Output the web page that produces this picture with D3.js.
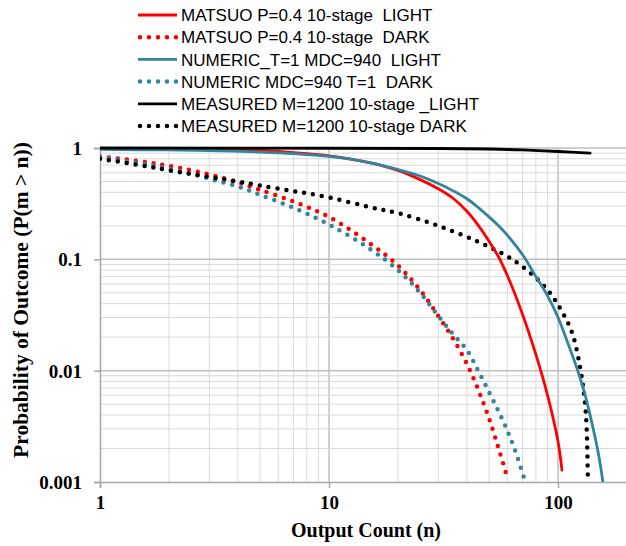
<!DOCTYPE html>
<html>
<head>
<meta charset="utf-8">
<script src="https://cdn.jsdelivr.net/npm/d3@7"></script>
<style>
  body { margin: 0; background: #fff; }
  svg { display: block; }
  .legend text { font-family: "Liberation Sans", Arial, sans-serif; font-size: 17px; white-space: pre; }
  .tick-label { font-family: "Liberation Serif", "Times New Roman", serif; font-weight: bold; font-size: 19px; }
  .title { font-family: "Liberation Serif", "Times New Roman", serif; font-weight: bold; font-size: 20px; }
</style>
</head>
<body>
<script>
// series (n, P(m > n))
const matsuoLightN = [1, 2, 3, 5, 7, 10, 15, 20, 25, 30, 35, 40, 45, 50, 55, 60, 70, 80, 90, 100, 104];
const matsuoLightP = [0.99, 0.985, 0.975, 0.95, 0.91, 0.85, 0.74, 0.63, 0.52, 0.43, 0.35, 0.27, 0.2, 0.145, 0.105, 0.072, 0.032, 0.014, 0.006, 0.0023, 0.00128];

const matsuoDarkN = [1, 1.5, 2, 3, 4, 5, 7, 10, 15, 20, 25, 30, 35, 40, 45, 50, 55, 60];
const matsuoDarkP = [0.84, 0.76, 0.69, 0.58, 0.49, 0.42, 0.33, 0.24, 0.14, 0.088, 0.053, 0.031, 0.019, 0.0115, 0.0066, 0.0037, 0.002, 0.0011];

const numericLightN = [1, 2, 3, 5, 7, 10, 15, 20, 25, 30, 35, 40, 45, 50, 55, 60, 70, 80, 90, 100, 110, 120, 130, 140, 150, 157];
const numericLightP = [0.97, 0.96, 0.95, 0.92, 0.89, 0.84, 0.74, 0.64, 0.56, 0.48, 0.41, 0.35, 0.29, 0.24, 0.2, 0.165, 0.11, 0.07, 0.047, 0.03, 0.018, 0.011, 0.0065, 0.0035, 0.0018, 0.001];

const numericDarkN = [1, 1.5, 2, 3, 4, 5, 7, 10, 15, 20, 25, 30, 35, 40, 45, 50, 55, 60, 65, 72];
const numericDarkP = [0.82, 0.73, 0.65, 0.53, 0.45, 0.38, 0.29, 0.205, 0.125, 0.08, 0.05, 0.031, 0.021, 0.0153, 0.0098, 0.0064, 0.0043, 0.0029, 0.0019, 0.001];

const measuredLightN = [1, 10, 30, 50, 70, 100, 138];
const measuredLightP = [1, 0.995, 0.99, 0.98, 0.96, 0.93, 0.9];

const measuredDarkN = [1, 1.5, 2, 3, 4, 5, 7, 10, 15, 20, 30, 45, 64, 86, 100, 115, 125, 130, 133, 135];
const measuredDarkP = [0.8, 0.7, 0.63, 0.55, 0.5, 0.46, 0.41, 0.36, 0.295, 0.26, 0.2, 0.143, 0.098, 0.059, 0.039, 0.022, 0.0105, 0.006, 0.0034, 0.001];

const legendLabels = [
  "MATSUO P=0.4 10-stage  LIGHT",
  "MATSUO P=0.4 10-stage  DARK",
  "NUMERIC_T=1 MDC=940  LIGHT",
  "NUMERIC MDC=940 T=1  DARK",
  "MEASURED M=1200 10-stage _LIGHT",
  "MEASURED M=1200 10-stage DARK"
];

const xTicks = [1, 10, 100];
const yTicks = [1, 0.1, 0.01, 0.001];
const yTickLabels = ["1", "0.1", "0.01", "0.001"];

const red = "#ff0000", teal = "#31859c", black = "#000000";
const series = [
  {n: matsuoLightN, p: matsuoLightP, color: red, dotted: false},
  {n: matsuoDarkN, p: matsuoDarkP, color: red, dotted: true},
  {n: numericLightN, p: numericLightP, color: teal, dotted: false},
  {n: numericDarkN, p: numericDarkP, color: teal, dotted: true},
  {n: measuredLightN, p: measuredLightP, color: black, dotted: false},
  {n: measuredDarkN, p: measuredDarkP, color: black, dotted: true}
];

const W = 626, H = 546;
const plotBox = {left: 100, right: 627, top: 148, bottom: 482};

const svg = d3.select("body").append("svg")
  .attr("width", W)
  .attr("height", H);

const x = d3.scaleLog().domain([1, 200]).range([plotBox.left, plotBox.right]);
const y = d3.scaleLog().domain([0.001, 1]).range([plotBox.bottom, plotBox.top]);

// grid
const gx = [], gy = [];
[1, 10, 100].forEach(d => { for (let k = 1; k <= 9; k++) if (d * k <= 200) gx.push(d * k); });
[0.001, 0.01, 0.1].forEach(d => { for (let k = 1; k <= 9; k++) gy.push(d * k); });
gy.push(1);
const isMajor = (d, ticks) => ticks.some(t => Math.abs(t - d) < t * 1e-6);

const grid = svg.append("g");
grid.selectAll(".vg")
  .data(gx.filter(d => d > 1))
  .enter().append("line")
    .attr("x1", d => x(d)).attr("x2", d => x(d))
    .attr("y1", plotBox.top).attr("y2", plotBox.bottom)
    .attr("stroke", d => isMajor(d, xTicks) ? "#bfbfbf" : "#d9d9d9")
    .attr("stroke-width", d => isMajor(d, xTicks) ? 1.5 : 1);
grid.selectAll(".hg")
  .data(gy.filter(d => d > 0.0011))
  .enter().append("line")
    .attr("x1", plotBox.left).attr("x2", plotBox.right)
    .attr("y1", d => y(d)).attr("y2", d => y(d))
    .attr("stroke", d => isMajor(d, yTicks) ? "#bfbfbf" : "#d9d9d9")
    .attr("stroke-width", d => isMajor(d, yTicks) ? 1.5 : 1);

// axes
const xAxis = svg.append("g")
  .attr("transform", "translate(0," + plotBox.bottom + ")")
  .call(d3.axisBottom(x).tickValues(xTicks).tickFormat(d3.format("d")).tickSize(6).tickPadding(8));
const yAxis = svg.append("g")
  .attr("transform", "translate(" + plotBox.left + ",0)")
  .call(d3.axisLeft(y).tickValues(yTicks).tickFormat((d, i) => yTickLabels[i]).tickSize(6).tickPadding(12));
[xAxis, yAxis].forEach(a => {
  a.select(".domain").attr("stroke", "#a6a6a6").attr("stroke-width", 1.5);
  a.selectAll(".tick line").attr("stroke", "#a6a6a6").attr("stroke-width", 1.5);
  a.selectAll(".tick text").attr("class", "tick-label").attr("fill", "#000");
});
yAxis.selectAll(".tick text").attr("dy", "0.35em");

// curves
svg.append("clipPath").attr("id", "clip")
  .append("rect")
    .attr("x", plotBox.left).attr("y", plotBox.top - 5)
    .attr("width", plotBox.right - plotBox.left)
    .attr("height", plotBox.bottom - plotBox.top + 5);

const line = d3.line()
  .x(d => x(d[0]))
  .y(d => y(d[1]))
  .curve(d3.curveCatmullRom.alpha(0.5));

const plot = svg.append("g").attr("clip-path", "url(#clip)");
// dotted first, then solid
const order = [1, 3, 5, 0, 2, 4];
order.forEach(i => {
  const s = series[i];
  plot.append("path")
    .datum(s.n.map((n, j) => [n, s.p[j]]))
    .attr("d", line)
    .attr("fill", "none")
    .attr("stroke", s.color)
    .attr("stroke-width", s.dotted ? 4.5 : 2.8)
    .attr("stroke-linecap", "round")
    .attr("stroke-dasharray", s.dotted ? "0 9" : null);
});

// titles
svg.append("text")
  .attr("class", "title")
  .attr("x", 366).attr("y", 537)
  .attr("text-anchor", "middle")
  .text("Output Count (n)");
svg.append("text")
  .attr("class", "title")
  .attr("transform", "translate(28,300) rotate(-90)")
  .attr("text-anchor", "middle")
  .style("font-size", "21.5px")
  .text("Probability of Outcome (P(m > n))");

// legend
const legend = svg.append("g").attr("class", "legend");
const rowY = d3.scaleLinear().domain([0, 5]).range([15, 126]);
legendLabels.forEach((label, i) => {
  const s = series[i];
  legend.append("line")
    .attr("x1", s.dotted ? 140 : 138).attr("x2", 177)
    .attr("y1", rowY(i)).attr("y2", rowY(i))
    .attr("stroke", s.color)
    .attr("stroke-width", s.dotted ? 4.5 : 2.8)
    .attr("stroke-linecap", s.dotted ? "round" : "butt")
    .attr("stroke-dasharray", s.dotted ? "0 9" : null);
  legend.append("text")
    .attr("x", 181).attr("y", rowY(i))
    .attr("dy", "0.36em")
    .text(label);
});
</script>
</body>
</html>
